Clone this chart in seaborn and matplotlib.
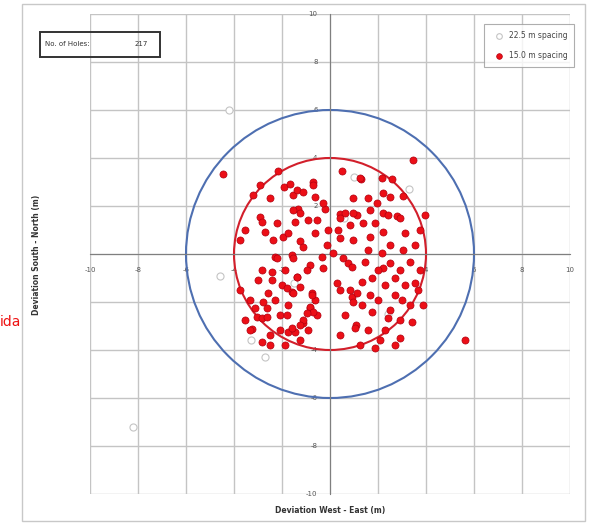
import numpy as np
import pandas as pd
import matplotlib
matplotlib.use("Agg")
import matplotlib.pyplot as plt
import seaborn as sns
from matplotlib.patches import Circle, Rectangle

# ---- data (pixel-read estimates converted to metres) ----
px_red = [223,260,253,270,278,284,290,293,313,313,315,325,298,295,277,260,262,265,273,283,288,300,315,317,327,292,275,
          413,342,361,382,392,353,368,383,390,403,377,370,340,345,357,383,388,397,400,363,350,338,375,383,405,353,370,390,368,382,
          258,272,272,285,297,310,323,293,277,268,282,287,292,300,312,263,267,257,262,267,280,288,287,310,317,303,308,252,288,295,
          340,352,362,372,383,390,400,405,395,415,420,410,400,385,368,356,345,340,360,375,400,390,378,423,465,245,250,262,270,
          360,297,303,323,340,308,293,300,353,328,340,303,322,333,343,348,352,307,297,337,350,357,353,293,310,313,307,303,292,355,315,312,
          365,378,395,410,418,402,388,372,362,380,395,412,370,385,403,415,420,425,
          240,245,240,250,262,275,280,300,285,270,255,300]
py_red = [174,185,195,198,171,187,184,195,182,185,197,209,209,222,223,217,222,232,240,237,233,241,233,220,245,255,257,
          160,171,179,178,179,198,198,193,197,196,203,210,214,213,215,213,215,216,218,223,225,230,223,232,233,240,237,245,250,253,
          280,272,280,270,277,265,268,258,258,293,285,288,292,287,293,302,308,317,318,317,315,305,315,308,315,323,330,329,332,332,
          290,297,282,278,268,263,270,285,295,283,270,305,320,330,330,325,315,335,345,348,338,310,300,305,340,320,330,342,335,
          178,190,192,203,218,220,210,213,213,230,238,247,257,253,258,263,267,270,277,283,290,293,302,293,307,312,313,320,328,328,300,295,
          262,270,278,262,290,300,318,312,305,340,345,322,295,285,250,245,230,215,
          240,230,290,300,270,300,330,340,345,345,308,325]
x_red = [round((p - 330) / 24, 2) for p in px_red]
y_red = [round((254 - p) / 24, 2) for p in py_red]

x_hollow = [-4.2, -4.6, -3.3, -2.7, -8.2, 3.3, 1.0, -1.5, 2.4, 0.6]
y_hollow = [6.0, -0.9, -3.6, -4.3, -7.2, 2.7, 3.2, -1.2, -2.5, 1.5]

ticks = [-10, -8, -6, -4, -2, 2, 4, 6, 8, 10]
series_names = ["22.5 m spacing", "15.0 m spacing"]
n_holes = 217
circle_radii = [6, 4]

df = pd.concat([
    pd.DataFrame({"x": x_hollow, "y": y_hollow, "s": series_names[0]}),
    pd.DataFrame({"x": x_red, "y": y_red, "s": series_names[1]}),
])

sns.set_style("white")
plt.rcParams['font.family'] = ['DejaVu Sans']

fig = plt.figure(figsize=(5.91, 5.24), dpi=100)
ax = fig.add_axes([90/591, 30/524, 480/591, 480/524])

ax.set_xlim(-10, 10)
ax.set_ylim(-10, 10)
ax.set_xticks(np.arange(-10, 11, 2))
ax.set_yticks(np.arange(-10, 11, 2))
ax.grid(True, color="#c4c4c4", lw=1.0)
ax.set_axisbelow(True)

for sp in ["top", "right"]:
    ax.spines[sp].set_visible(False)
ax.spines["left"].set_position(("data", 0))
ax.spines["bottom"].set_position(("data", 0))
ax.spines["left"].set_color("#7f7f7f")
ax.spines["bottom"].set_color("#7f7f7f")

# circles
ax.add_patch(Circle((0, 0), circle_radii[0], fill=False, ec="#4e6fb1", lw=1.5, zorder=2))
ax.add_patch(Circle((0, 0), circle_radii[1], fill=False, ec="#d21f2b", lw=1.5, zorder=2))

sub0 = df[df.s == series_names[0]]
sub1 = df[df.s == series_names[1]]
sns.scatterplot(data=sub0, x="x", y="y", ax=ax, marker="o", s=26,
                facecolor="white", edgecolor="#c4c4c4", linewidth=0.8, zorder=3, label=series_names[0])
sns.scatterplot(data=sub1, x="x", y="y", ax=ax, marker="o", s=26,
                color="#ec0f17", edgecolor="#b00010", linewidth=0.5, zorder=4, label=series_names[1])

ax.set_xticklabels(["" if t == 0 else str(t) for t in range(-10, 11, 2)], fontsize=5, color="#555555")
ax.set_yticklabels(["" if t == 0 else str(t) for t in range(-10, 11, 2)], fontsize=5, color="#555555")
ax.tick_params(length=3, color="#7f7f7f", pad=6)
ax.set_xlabel("")
ax.set_ylabel("")

leg = ax.legend(loc="upper right", bbox_to_anchor=(1.017, 0.987), fontsize=5.5, frameon=True,
                fancybox=False, edgecolor="#9a9a9a", handletextpad=0.3, borderpad=0.9,
                labelspacing=1.5, markerscale=0.8)
leg.get_frame().set_linewidth(0.8)
for t in leg.get_texts():
    t.set_color("#444444")

# text box
fig.text(45/591, 1 - 44/524, "No. of Holes:", fontsize=5, color="#333333", va="center")
fig.text(135/591, 1 - 44/524, str(n_holes), fontsize=5, color="#333333", va="center")
fig.patches.append(Rectangle((40/591, 1 - 57/524), 120/591, 25/524, transform=fig.transFigure,
                             fill=False, ec="#333333", lw=1.4))

fig.text(330/591, 1 - 510/524, "Deviation West - East (m)", fontsize=5.5, fontweight="bold",
         color="#333333", ha="center", va="center")
fig.text(36/591, 1 - 255/524, "Deviation South - North (m)", fontsize=5.5, fontweight="bold",
         color="#333333", ha="center", va="center", rotation=90)

# outer chart frame
fig.patches.append(Rectangle((22/591, 3/524), 563/591, 517/524, transform=fig.transFigure,
                             fill=False, ec="#c8c8c8", lw=1.0))

fig.text(0.0, 1 - 322/524, "ida", fontsize=10, color="#ee1111", ha="left", va="center")

fig.savefig("out.png", dpi=100)
